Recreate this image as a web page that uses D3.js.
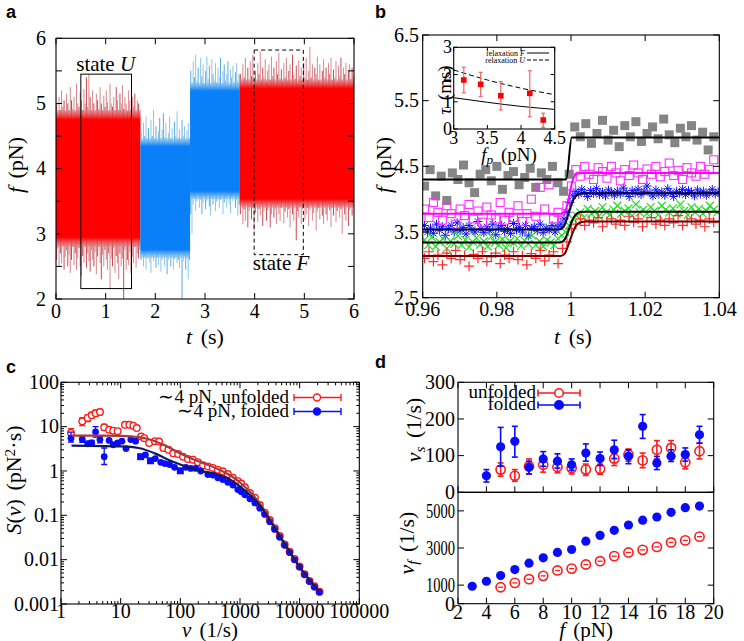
<!DOCTYPE html>
<html><head><meta charset="utf-8">
<script src="https://cdn.jsdelivr.net/npm/d3@7"></script>
<style>
body{margin:0;background:#fff}
svg text{font-family:"Liberation Serif","Times New Roman",serif;fill:#000}
</style></head><body>
<svg id="chart" width="744" height="641"></svg>
<script>
// ================= DATA =================
// ---- panel a : force trace envelopes (segments of the time series)
const aSegStart=[0,1.7,2.7,3.7];
const aSegEnd=[1.7,2.7,3.7,6.0];
const aSegKind=['red','blue','blue','red'];
const aCoreLo=[2.92,2.75,3.65,3.52];
const aCoreHi=[4.78,4.35,5.2,5.25];
const aHi1=[5.0,4.85,5.1,4.9,5.2,4.95,5.05,4.88,5.15,5.0,4.9,5.25,5.05,4.92,5.1,4.86,5.3,5.0,4.95,5.18,5.05,4.9,5.22,5.0,5.4,4.95,5.45,5.1,4.9,5.2,5.0,4.88,5.15,5.05,4.92,5.25,5.0,4.9,5.12,4.95,5.2,5.02,4.88,5.3,5.0,4.95,5.1,4.9,5.25,5.05,4.9,5.15,5.0,5.28,4.92,5.1,5.0,4.88,5.2,5.05,4.9,5.1,4.95,5.15,4.88,5.05,5.0,4.9];
const aLo1=[2.6,2.78,2.5,2.7,2.55,2.82,2.45,2.65,2.75,2.5,2.68,2.4,2.6,2.8,2.52,2.7,2.45,2.62,2.78,2.5,2.35,2.66,2.55,2.8,2.48,2.7,2.58,2.42,2.75,2.6,2.5,2.72,2.38,2.65,2.8,2.55,2.3,2.68,2.5,2.75,2.6,2.45,2.7,2.15,2.62,2.5,2.78,2.4,2.66,2.55,2.3,2.7,2.5,2.62,2.0,2.75,2.45,2.6,2.52,2.72,2.4,2.65,2.55,2.8,2.48,2.7,2.62,2.75];
const aHi2=[4.55,4.42,4.7,4.5,4.8,4.45,4.62,4.4,4.75,4.5,4.9,4.45,4.65,4.42,4.58,4.78,4.44,4.6,4.85,4.48,4.7,4.42,4.55,4.8,4.46,4.62,4.4,4.72,4.5,4.88,4.45,4.6,4.42,4.75,4.5,4.65,4.44,4.58,4.7,4.46];
const aLo2=[2.6,2.7,2.5,2.66,2.45,2.62,2.72,2.55,2.4,2.68,2.58,2.7,2.48,2.64,2.52,2.72,2.42,2.6,2.68,2.5,2.65,2.38,2.6,2.7,2.5,2.66,2.45,2.62,2.7,2.55,2.6,2.48,2.7,2.0,2.58,2.66,2.45,2.62,2.3,2.6];
const aHi3=[5.5,5.3,5.65,5.4,5.75,5.35,5.55,5.28,5.7,5.42,5.6,5.3,5.5,5.72,5.38,5.58,5.3,5.68,5.45,5.35,5.62,5.32,5.55,5.4,5.7,5.3,5.5,5.6,5.35,5.45,5.65,5.3,5.52,5.4,5.58,5.32,5.48,5.62,5.35,5.45];
const aLo3=[3.3,3.0,3.45,3.55,3.35,3.5,3.6,3.4,3.52,3.3,3.48,3.58,3.38,3.5,3.6,3.42,3.28,3.55,3.45,3.6,3.35,3.5,3.58,3.4,3.52,3.6,3.3,3.48,3.55,3.4,3.58,3.45,3.32,3.55,3.5,3.6,3.4,3.52,3.28,3.45];
const aHi4=[5.45,5.32,5.6,5.4,5.7,5.35,5.55,5.3,5.65,5.42,5.75,5.38,5.5,5.32,5.62,5.45,5.8,5.35,5.55,5.4,5.68,5.33,5.5,5.6,5.36,5.72,5.42,5.55,5.3,5.65,5.45,5.78,5.38,5.52,5.34,5.62,5.4,5.7,5.35,5.5,5.6,5.32,5.75,5.45,5.38,5.58,5.3,5.66,5.42,5.55,5.35,5.62,5.4,5.7,5.36,5.5,5.87,5.4,5.6,5.33,5.55,5.45,5.72,5.35,5.6,5.3,5.5,5.68,5.4,5.55,5.32,5.62,5.45,5.7,5.36,5.52,5.4,5.65,5.33,5.58,5.42,5.7,5.35,5.55,5.45,5.62,5.32,5.5,5.6,5.38,5.55,5.42];
const aLo4=[3.3,3.45,3.15,3.38,3.2,3.48,3.1,3.35,3.42,3.22,3.4,3.05,3.32,3.46,3.18,3.38,3.28,3.45,3.12,3.35,3.42,3.2,3.36,3.48,3.1,3.3,3.44,3.25,3.38,3.15,3.45,3.3,3.2,3.4,3.48,3.16,3.34,3.42,3.25,3.38,3.1,3.44,3.3,3.2,3.45,2.9,3.35,3.25,3.42,3.15,3.38,3.46,3.22,3.3,3.4,3.12,3.36,3.44,3.2,3.32,3.45,3.05,3.34,3.4,3.22,3.48,3.28,3.15,3.42,3.3,3.2,3.45,3.36,3.1,3.4,3.28,3.46,3.18,3.35,3.42,3.25,3.38,3.0,3.44,3.3,3.2,3.46,3.12,3.36,3.4,3.28,3.45];
const aXTicks=[0,1,2,3,4,5,6];
const aYTicks=[2,3,4,5,6];

// ---- panel b : relaxation traces (start time, sample step, values)
const bGreyStart=0.9605, bGreyStep=0.0015;
const bGrey=[4.2,4.45,4.05,4.35,3.98,4.4,4.3,4.52,4.25,4.1,4.38,4.45,4.28,4.5,4.15,4.36,4.42,4.22,4.33,4.47,4.18,4.4,4.3,4.5,4.25,4.12,4.38,
 5.1,4.95,5.15,4.85,5.0,5.2,4.9,5.05,4.8,5.12,4.95,5.18,4.88,5.0,5.1,4.92,5.22,4.98,4.86,5.08,4.95,5.12,4.9,5.02,4.75,4.95];
const bMagStart=0.9605, bMagStep=0.0012;
const bMag=[3.85,3.72,3.95,3.8,3.68,3.9,3.78,3.62,3.85,3.75,3.92,3.7,3.82,3.65,3.88,3.76,3.7,3.95,3.68,3.8,3.72,3.9,3.66,3.78,4.0,3.74,4.18,3.85,4.22,3.7,3.8,3.72,3.9,
 4.2,4.45,4.35,4.5,4.38,4.3,4.48,4.42,4.32,4.5,4.4,4.28,4.45,4.36,4.52,4.4,4.3,4.46,4.38,4.5,4.34,4.42,4.55,4.36,4.44,4.3,4.48,4.4,4.35,4.5,4.38,4.45,4.6];
const bBlueStart=0.9605, bBlueStep=0.0008;
const bBlue=[3.6,3.5,3.56,3.48,3.62,3.53,3.58,3.45,3.55,3.6,3.5,3.64,3.52,3.57,3.47,3.6,3.54,3.5,3.66,3.55,3.49,3.58,3.52,3.62,3.46,3.56,3.6,3.51,3.55,3.48,3.63,3.53,3.57,3.5,3.6,3.44,3.55,3.58,3.52,3.62,3.49,3.56,3.53,3.6,3.5,3.58,3.62,3.7,3.8,
 3.95,4.05,4.12,4.08,4.15,4.1,4.04,4.13,4.09,4.16,4.07,4.11,4.05,4.14,4.1,4.06,4.12,4.08,4.17,4.1,4.04,4.13,4.09,4.15,4.07,4.12,4.2,4.1,4.05,4.14,4.08,4.11,4.06,4.16,4.1,4.04,4.12,4.09,4.15,4.07,4.13,4.1,4.05,4.14,4.08,4.12,4.06,4.1,4.15,4.08,4.11];
const bGreenStart=0.9605, bGreenStep=0.001;
const bGreen=[3.38,3.3,3.42,3.28,3.35,3.4,3.25,3.36,3.32,3.44,3.3,3.38,3.27,3.35,3.41,3.31,3.36,3.28,3.43,3.34,3.3,3.39,3.26,3.36,3.33,3.4,3.29,3.37,3.32,3.45,3.3,3.36,3.28,3.38,3.34,3.3,3.4,3.45,3.5,3.6,
 3.7,3.75,3.8,3.72,3.85,3.78,3.82,3.74,3.88,3.8,3.76,3.84,3.9,3.78,3.82,3.86,3.75,3.92,3.8,3.84,3.78,3.88,3.82,3.76,3.9,3.84,3.8,3.86,3.78,3.92,3.82,3.76,3.88,3.8,3.85,3.78,3.82,3.9,3.84,3.8];
const bRedStart=0.9605, bRedStep=0.0012;
const bRed=[3.1,3.2,3.05,3.15,3.0,3.18,3.1,3.22,3.08,3.14,2.98,3.16,3.1,3.2,3.05,3.12,3.18,3.02,3.15,3.1,3.2,3.08,3.14,3.0,3.17,3.1,3.22,3.06,3.15,3.2,3.02,3.25,3.35,
 3.55,3.62,3.7,3.6,3.68,3.64,3.72,3.58,3.66,3.7,3.62,3.68,3.6,3.74,3.65,3.7,3.58,3.66,3.72,3.62,3.68,3.6,3.7,3.64,3.75,3.6,3.66,3.7,3.62,3.68,3.58,3.7,3.65];
// fitted curves [t, f]
const bFitGrey=[[0.96,4.30],[0.9987,4.30],[1.0002,4.94],[1.04,4.94]];
const bFitMag=[[0.96,3.78],[0.9972,3.78],[0.9985,3.83],[0.9995,4.05],[1.0005,4.3],[1.0017,4.39],[1.003,4.40],[1.04,4.40]];
const bFitBlue=[[0.96,3.54],[0.9968,3.54],[0.998,3.58],[0.999,3.72],[1.0,3.9],[1.001,4.03],[1.0022,4.08],[1.0035,4.09],[1.04,4.09]];
const bFitGreen=[[0.96,3.34],[0.997,3.34],[0.9982,3.38],[0.9992,3.5],[1.0002,3.66],[1.0012,3.76],[1.0025,3.805],[1.004,3.81],[1.04,3.81]];
const bFitRed=[[0.96,3.135],[0.9972,3.135],[0.9984,3.18],[0.9994,3.32],[1.0004,3.48],[1.0014,3.6],[1.0027,3.65],[1.0042,3.66],[1.04,3.66]];
const bXTicks=[0.96,0.98,1.0,1.02,1.04];
const bYTicks=[2.5,3.5,4.5,5.5,6.5];
// inset
const iFp=[3.15,3.40,3.70,4.13,4.33];
const iTau=[1.80,1.64,1.22,1.31,0.33];
const iTauLo=[1.33,1.19,0.70,0.45,0.06];
const iTauHi=[2.27,2.08,1.74,2.14,0.58];
const iFitUx=[3,3.5,4,4.5], iFitU=[2.17,1.8,1.5,1.26];
const iFitFx=[3,3.5,4,4.5], iFitF=[1.15,0.98,0.83,0.72];
const iXTicks=[3,3.5,4,4.5], iYTicks=[0,1,2,3];

// ---- panel c : power spectra
const cUnfNu=[1.47,2.27,2.8,3.27,3.8,4.5,5.3,6.4,7.5,8.9,11.8,14,16.3,18.6,22,24.9,30,37.6,44,52,63,76,92,111,134,163,197,240,290,350,425,515,625,760,920,1050,1210,1466,1776,2151,2606,3157,3825,4633,5613,6801,8239,9981,12092,14649,17747,21500];
const cUnfS=[7.2,13.2,15.7,18,20,21.4,9.7,8.5,8.1,7.9,11,11,10.5,9.3,6.0,5.5,4.3,4.7,4.6,3.3,3.0,2.5,2.4,2.1,1.86,1.8,1.58,1.34,1.27,1.17,1.07,0.98,0.85,0.70,0.59,0.52,0.43,0.32,0.25,0.17,0.115,0.078,0.051,0.034,0.022,0.0151,0.0103,0.0070,0.0047,0.0033,0.0025,0.0019];
const cUnfErrLo=[6.0,10.5,13,15.5,17,18.5,8.5,7.5,7.2,7.0];
const cUnfErrHi=[9.0,16,18.5,21,23.5,24.5,11.2,9.6,9.0,8.8];
const cFoldNu=[1.47,2.27,2.8,3.27,3.8,4.5,5.3,6.4,7.5,8.9,10.5,12.3,14.8,17.8,26,38,47,55,66,80,124,150,182,220,290,350,425,515,625,760,920,1050,1210,1466,1776,2151,2606,3157,3825,4633,5613,6801,8239,9981,12092,14649,17747,21500];
const cFoldS=[5.5,5.2,4.1,4.3,7.6,5.1,2.1,4.9,3.9,4.3,4.7,3.2,5.1,4.7,2.3,1.9,1.57,1.47,1.40,1.21,1.21,1.14,1.14,1.0,0.83,0.81,0.70,0.64,0.556,0.48,0.38,0.34,0.29,0.235,0.19,0.145,0.105,0.072,0.048,0.032,0.021,0.0145,0.0099,0.0068,0.0046,0.0032,0.0024,0.00185];
const cFoldErrLo=[4.5,4.4,3.6,3.8,5.8,4.3,1.4];
const cFoldErrHi=[7.5,6.1,4.7,4.9,10,6.0,3.3];
const cFoldSqNu=[21.6,31.6,100], cFoldSqS=[2.1,1.7,1.01];
const cUnfFitNu=[1.5,5,10,20,30,50,80,120,200,300,500,700,1000,1500,2000,3000,5000,10000,21500];
const cUnfFitS=[6.3,6.3,6.2,5.8,5.2,4.0,2.9,2.2,1.65,1.35,1.0,0.78,0.55,0.33,0.21,0.093,0.03,0.0068,0.0019];
const cFoldFitNu=[1.5,10,20,40,60,100,150,250,400,600,1000,1500,2000,3000,5000,10000,21500];
const cFoldFitS=[3.75,3.6,3.3,2.4,1.85,1.4,1.15,0.97,0.85,0.7,0.45,0.28,0.19,0.088,0.029,0.0068,0.0019];
const cXTicks=[1,10,100,1000,10000,100000];
const cXLabels=['1','10','100','1000','10000','100000'];
const cYTicks=[0.001,0.01,0.1,1,10,100];
const cYLabels=['0.001','0.01','0.1','1','10','100'];

// ---- panel d : rates vs force
const dFoldF=[4,5,6,7,8,9,10,11,12,13,14,15,16,17,18,19];
const dFoldNuS=[45,124,139,68,91,85,75,107,92,116,98,180,80,98,103,157];
const dFoldNuSHi=[62,177,180,85,111,105,91,132,110,142,116,212,98,116,121,180];
const dFoldNuSLo=[28,71,96,50,71,66,60,85,73,92,78,147,62,84,85,134];
const dUnfF=[5,6,7,8,9,10,11,12,13,14,15,16,17,18,19];
const dUnfNuS=[62,45,71,75,69,66,62,64,92,103,87,116,121,82,112];
const dUnfNuSHi=[80,62,91,93,86,80,77,77,107,118,107,141,141,97,134];
const dUnfNuSLo=[44,30,50,55,53,50,46,49,73,85,67,91,101,64,91];
const dFoldF2=[3,4,5,6,7,8,9,10,11,12,13,14,15,16,17,18,19];
const dFoldNuF=[940,1210,1515,1840,2180,2470,2760,2920,3370,3680,3950,4240,4500,4670,4920,5170,5260];
const dUnfF2=[5,6,7,8,9,10,11,12,13,14,15,16,17,18,19];
const dUnfNuF=[885,1120,1320,1500,1790,1890,2110,2290,2560,2760,2900,3060,3300,3410,3610];
const dXTicks=[2,4,6,8,10,12,14,16,18,20];
const dYTopTicks=[0,100,200,300];
const dYBotTicks=[0,1000,3000,5000];

// ================= DRAWING =================
const svg=d3.select('#chart');
const TICK=20;
function frame(g,x0,x1,y0,y1,dash){
  const r=g.append('rect').attr('x',x0).attr('y',y0).attr('width',x1-x0).attr('height',y1-y0)
   .attr('fill','none').attr('stroke','#000').attr('stroke-width',1.1);
  if(dash) r.attr('stroke-dasharray',dash);
  return r;
}
function xTicks(g,sc,vals,yTop,yBot,len,top=true,bot=true){
  if(bot) g.append('g').selectAll('line').data(vals).join('line')
    .attr('x1',d=>sc(d)).attr('x2',d=>sc(d)).attr('y1',yBot).attr('y2',yBot-len).attr('stroke','#000');
  if(top) g.append('g').selectAll('line').data(vals).join('line')
    .attr('x1',d=>sc(d)).attr('x2',d=>sc(d)).attr('y1',yTop).attr('y2',yTop+len).attr('stroke','#000');
}
function yTicks(g,sc,vals,xL,xR,len){
  g.append('g').selectAll('line').data(vals).join('line')
    .attr('y1',d=>sc(d)).attr('y2',d=>sc(d)).attr('x1',xL).attr('x2',xL+len).attr('stroke','#000');
  g.append('g').selectAll('line').data(vals).join('line')
    .attr('y1',d=>sc(d)).attr('y2',d=>sc(d)).attr('x1',xR).attr('x2',xR-len).attr('stroke','#000');
}
function xLabels(g,sc,vals,y,fmt,size){
  g.append('g').selectAll('text').data(vals).join('text').attr('x',d=>sc(d)).attr('y',y)
   .attr('text-anchor','middle').attr('font-size',size||TICK).text((d,i)=>fmt?fmt(d,i):d);
}
function yLabels(g,sc,vals,x,fmt,size){
  g.append('g').selectAll('text').data(vals).join('text').attr('x',x).attr('y',d=>sc(d)).attr('dy','0.34em')
   .attr('text-anchor','end').attr('font-size',size||TICK).text((d,i)=>fmt?fmt(d,i):d);
}
function rich(sel,parts){
  parts.forEach(p=>{const t=sel.append('tspan').text(p.t);
    if(p.i) t.attr('font-style','italic');
    if(p.sub){t.attr('baseline-shift','-25%').attr('font-size','70%');}
    if(p.sup){t.attr('baseline-shift','40%').attr('font-size','70%');}
  });
  return sel;
}
function title(g,x,y,parts,size,rot){
  const t=g.append('text').attr('text-anchor','middle').attr('font-size',size||22).attr('word-spacing','3px');
  if(rot) t.attr('transform',`translate(${x},${y}) rotate(-90)`).attr('dy','0.35em');
  else t.attr('x',x).attr('y',y);
  return rich(t,parts);
}
function panelLetter(x,y,s){
  svg.append('text').attr('x',x).attr('y',y).attr('font-size',18).attr('font-weight','bold')
   .style('font-family','"Liberation Sans",Arial,sans-serif').text(s);
}
const defs=svg.append('defs');
function clip(id,x0,x1,y0,y1){defs.append('clipPath').attr('id',id).append('rect').attr('x',x0).attr('y',y0).attr('width',x1-x0).attr('height',y1-y0);}

// ---------- Panel a
{
  const X0=56,X1=354,Y0=38.3,Y1=299;
  const ax=d3.scaleLinear([0,6],[X0,X1]), ay=d3.scaleLinear([2,6],[Y1,Y0]);
  const g=svg.append('g');
  clip('clipA',X0,X1,Y0,Y1);
  const tg=g.append('g').attr('clip-path','url(#clipA)');
  const halo={red:'#d9868b',blue:'#8dc5ea'}, haloDark={red:'#c84a52',blue:'#5aaae6'}, core={red:'#ff0000',blue:'#0a80f8'};
  // vertical gradients that soften the core band edges
  ['red','blue'].forEach(k=>{
    const gr=defs.append('linearGradient').attr('id','grad-'+k).attr('x1',0).attr('x2',0).attr('y1',0).attr('y2',1);
    [[0,halo[k],0],[0.07,core[k],1],[0.93,core[k],1],[1,halo[k],0]].forEach(([o,c,op])=>
      gr.append('stop').attr('offset',o).attr('stop-color',c).attr('stop-opacity',op===0?0.6:1));
  });
  const his=[aHi1,aHi2,aHi3,aHi4], los=[aLo1,aLo2,aLo3,aLo4];
  aSegStart.forEach((t0,k)=>{
    const t1=aSegEnd[k], hi=his[k], lo=los[k], n=hi.length, dt=(t1-t0)/n, kind=aSegKind[k];
    const pts=hi.map((v,i)=>({t:t0+(i+0.5)*dt,hi:v,lo:lo[i]}));
    tg.append('g').selectAll('line').data(pts).join('line')
      .attr('x1',d=>ax(d.t)).attr('x2',d=>ax(d.t)).attr('y1',d=>ay(d.lo)).attr('y2',d=>ay(d.hi))
      .attr('stroke',(d,i)=>i%3===0?haloDark[kind]:halo[kind]).attr('stroke-width',1);
    const padHi=0.12, padLo=0.12;
    tg.append('rect').attr('x',ax(t0)).attr('width',ax(t1)-ax(t0))
      .attr('y',ay(aCoreHi[k]+padHi)).attr('height',ay(aCoreLo[k]-padLo)-ay(aCoreHi[k]+padHi)).attr('fill',`url(#grad-${kind})`);
  });
  g.append('rect').attr('x',ax(0.5)).attr('y',ay(5.45)).attr('width',ax(1.52)-ax(0.5)).attr('height',ay(2.16)-ay(5.45))
    .attr('fill','none').attr('stroke','#000').attr('stroke-width',1);
  g.append('rect').attr('x',ax(3.99)).attr('y',ay(5.82)).attr('width',ax(4.98)-ax(3.99)).attr('height',ay(2.68)-ay(5.82))
    .attr('fill','none').attr('stroke','#000').attr('stroke-width',1).attr('stroke-dasharray','4,3');
  rich(g.append('text').attr('x',ax(1.0)).attr('y',70.5).attr('text-anchor','middle').attr('font-size',21),[{t:'state '},{t:'U',i:1}]);
  rich(g.append('text').attr('x',281).attr('y',270).attr('text-anchor','middle').attr('font-size',21),[{t:'state '},{t:'F',i:1}]);
  frame(g,X0,X1,Y0,Y1);
  xTicks(g,ax,aXTicks,Y0,Y1,6);
  yTicks(g,ay,d3.range(2,6.01,0.5),X0,X1,6);
  xLabels(g,ax,aXTicks,318);
  yLabels(g,ay,aYTicks,46);
  title(g,15,165,[{t:'f',i:1},{t:' (pN)'}],22,true);
  title(g,205,344,[{t:'t',i:1},{t:' (s)'}],22);
  panelLetter(6,18,'a');
}

// ---------- Panel b
{
  const X0=422.7,X1=719.3,Y0=35,Y1=297.7;
  const bx=d3.scaleLinear([0.96,1.04],[X0,X1]), by=d3.scaleLinear([2.5,6.5],[Y1,Y0]);
  const g=svg.append('g');
  clip('clipB',X0,X1,Y0,Y1);
  const dg=g.append('g').attr('clip-path','url(#clipB)');
  const mk=(vals,start,step)=>vals.map((v,i)=>({t:start+i*step,f:v}));
  dg.append('g').selectAll('rect').data(mk(bGrey,bGreyStart,bGreyStep)).join('rect')
    .attr('x',d=>bx(d.t)-4.5).attr('y',d=>by(d.f)-4.5).attr('width',9).attr('height',9).attr('fill','#858585');
  const ast=(s)=>`M${-s},0H${s}M0,${-s}V${s}M${-s*0.7},${-s*0.7}L${s*0.7},${s*0.7}M${-s*0.7},${s*0.7}L${s*0.7},${-s*0.7}`;
  dg.append('g').selectAll('path').data(mk(bBlue,bBlueStart,bBlueStep)).join('path')
    .attr('transform',d=>`translate(${bx(d.t)},${by(d.f)})`).attr('d',ast(4.5))
    .attr('stroke','#1010ff').attr('stroke-width',1).attr('fill','none');
  dg.append('g').selectAll('rect').data(mk(bMag,bMagStart,bMagStep)).join('rect')
    .attr('x',d=>bx(d.t)-4).attr('y',d=>by(d.f)-4).attr('width',8).attr('height',8)
    .attr('fill','none').attr('stroke','#ff30ff').attr('stroke-width',1.1);
  const xm=(s)=>`M${-s},${-s}L${s},${s}M${-s},${s}L${s},${-s}`;
  dg.append('g').selectAll('path').data(mk(bGreen,bGreenStart,bGreenStep)).join('path')
    .attr('transform',d=>`translate(${bx(d.t)},${by(d.f)})`).attr('d',xm(4))
    .attr('stroke','#22dd22').attr('stroke-width',1.2).attr('fill','none');
  const pm=(s)=>`M${-s},0H${s}M0,${-s}V${s}`;
  dg.append('g').selectAll('path').data(mk(bRed,bRedStart,bRedStep)).join('path')
    .attr('transform',d=>`translate(${bx(d.t)},${by(d.f)})`).attr('d',pm(5))
    .attr('stroke','#ff2a2a').attr('stroke-width',1.2).attr('fill','none');
  const ln=d3.line().x(d=>bx(d[0])).y(d=>by(d[1])).curve(d3.curveMonotoneX);
  [[bFitGrey,'#000'],[bFitMag,'#ff00ff'],[bFitBlue,'#000030'],[bFitGreen,'#000'],[bFitRed,'#700000']].forEach(([data,c])=>{
    dg.append('path').datum(data).attr('d',ln).attr('fill','none').attr('stroke',c).attr('stroke-width',2);
  });
  frame(g,X0,X1,Y0,Y1);
  xTicks(g,bx,bXTicks,Y0,Y1,6);
  yTicks(g,by,bYTicks,X0,X1,6);
  xLabels(g,bx,bXTicks,316,d=>d===1?'1':d3.format('.2f')(d));
  yLabels(g,by,bYTicks,419,d=>d.toFixed(1));
  title(g,383,165,[{t:'f',i:1},{t:' (pN)'}],22,true);
  title(g,573,344,[{t:'t',i:1},{t:' (s)'}],22);
  panelLetter(375,18,'b');

  // inset
  const IX0=453.7,IX1=554.7,IY0=47.3,IY1=129;
  const ix=d3.scaleLinear([3,4.5],[IX0,IX1]), iy=d3.scaleLinear([0,3],[IY1,IY0]);
  const ig=svg.append('g');
  ig.append('rect').attr('x',IX0).attr('y',IY0).attr('width',IX1-IX0).attr('height',IY1-IY0).attr('fill','#fff');
  const il=d3.line().x(d=>ix(d[0])).y(d=>iy(d[1])).curve(d3.curveMonotoneX);
  ig.append('path').datum(iFitUx.map((x,i)=>[x,iFitU[i]])).attr('d',il).attr('fill','none').attr('stroke','#000').attr('stroke-dasharray','5,3');
  ig.append('path').datum(iFitFx.map((x,i)=>[x,iFitF[i]])).attr('d',il).attr('fill','none').attr('stroke','#000');
  const ip=iFp.map((x,i)=>({x,y:iTau[i],lo:iTauLo[i],hi:iTauHi[i]}));
  const eg=ig.append('g').attr('stroke','#f07070').attr('stroke-width',1.3);
  ip.forEach(d=>{
    eg.append('line').attr('x1',ix(d.x)).attr('x2',ix(d.x)).attr('y1',iy(d.lo)).attr('y2',iy(d.hi));
    eg.append('line').attr('x1',ix(d.x)-2).attr('x2',ix(d.x)+2).attr('y1',iy(d.lo)).attr('y2',iy(d.lo));
    eg.append('line').attr('x1',ix(d.x)-2).attr('x2',ix(d.x)+2).attr('y1',iy(d.hi)).attr('y2',iy(d.hi));
  });
  ig.append('g').selectAll('rect').data(ip).join('rect').attr('x',d=>ix(d.x)-2.8).attr('y',d=>iy(d.y)-2.8)
    .attr('width',5.6).attr('height',5.6).attr('fill','#ff0000');
  rich(ig.append('text').attr('x',525).attr('y',56).attr('text-anchor','end').attr('font-size',8),[{t:'relaxation '},{t:'F',i:1}]);
  rich(ig.append('text').attr('x',525).attr('y',63).attr('text-anchor','end').attr('font-size',8),[{t:'relaxation '},{t:'U',i:1}]);
  ig.append('line').attr('x1',527).attr('x2',549).attr('y1',53).attr('y2',53).attr('stroke','#000');
  ig.append('line').attr('x1',527).attr('x2',549).attr('y1',60).attr('y2',60).attr('stroke','#000').attr('stroke-dasharray','4,2');
  frame(ig,IX0,IX1,IY0,IY1);
  xTicks(ig,ix,iXTicks,IY0,IY1,4);
  yTicks(ig,iy,iYTicks,IX0,IX1,4);
  xLabels(ig,ix,iXTicks,144,null,18);
  yLabels(ig,iy,iYTicks,452,null,18);
  title(ig,444,90,[{t:'τ',i:1},{t:' (ms)'}],19,true);
  title(ig,509,161,[{t:'f',i:1},{t:'p',i:1,sub:1},{t:' (pN)'}],19);
}

// ---------- Panel c
{
  const X0=61,X1=359.3,Y0=382.3,Y1=604;
  const cx=d3.scaleLog([1,1e5],[X0,X1]), cy=d3.scaleLog([1e-3,1e2],[Y1,Y0]);
  const g=svg.append('g');
  clip('clipC',X0,X1,Y0,Y1);
  const dg=g.append('g').attr('clip-path','url(#clipC)');
  const RED='#ff1a1a', BLUE='#0a0aff';
  function errs(gg,nu,lo,hi,col){
    const e=gg.append('g').attr('stroke',col).attr('stroke-width',1.3);
    lo.forEach((l,i)=>{const x=cx(nu[i]);
      e.append('line').attr('x1',x).attr('x2',x).attr('y1',cy(l)).attr('y2',cy(hi[i]));
      e.append('line').attr('x1',x-3).attr('x2',x+3).attr('y1',cy(l)).attr('y2',cy(l));
      e.append('line').attr('x1',x-3).attr('x2',x+3).attr('y1',cy(hi[i])).attr('y2',cy(hi[i]));
    });
  }
  errs(dg,cUnfNu,cUnfErrLo,cUnfErrHi,RED);
  dg.append('g').selectAll('circle').data(cUnfNu.map((n,i)=>[n,cUnfS[i]])).join('circle')
    .attr('cx',d=>cx(d[0])).attr('cy',d=>cy(d[1])).attr('r',3.3).attr('fill','#fff').attr('stroke',RED).attr('stroke-width',1.4);
  errs(dg,cFoldNu,cFoldErrLo,cFoldErrHi,BLUE);
  dg.append('g').selectAll('circle').data(cFoldNu.map((n,i)=>[n,cFoldS[i]])).join('circle')
    .attr('cx',d=>cx(d[0])).attr('cy',d=>cy(d[1])).attr('r',3.4).attr('fill',BLUE);
  dg.append('g').selectAll('rect').data(cFoldSqNu.map((n,i)=>[n,cFoldSqS[i]])).join('rect')
    .attr('x',d=>cx(d[0])-3.5).attr('y',d=>cy(d[1])-3.5).attr('width',7).attr('height',7).attr('fill',BLUE);
  const ln=d3.line().x(d=>cx(d[0])).y(d=>cy(d[1])).curve(d3.curveMonotoneX);
  dg.append('path').datum(cUnfFitNu.map((n,i)=>[n,cUnfFitS[i]])).attr('d',ln).attr('fill','none').attr('stroke','#a83a3a').attr('stroke-width',2.2);
  dg.append('path').datum(cFoldFitNu.map((n,i)=>[n,cFoldFitS[i]])).attr('d',ln).attr('fill','none').attr('stroke','#101a60').attr('stroke-width',2.2);
  const lg=g.append('g');
  [[397.5,'unfolded',RED,false],[411.5,'folded',BLUE,true]].forEach(([y,lab,col,filled])=>{
    lg.append('text').attr('x',289).attr('y',y+5.5).attr('text-anchor','end').attr('font-size',19).text('∼4 pN, '+lab);
    lg.append('line').attr('x1',294).attr('x2',341).attr('y1',y).attr('y2',y).attr('stroke',col).attr('stroke-width',1.4);
    lg.append('line').attr('x1',294).attr('x2',294).attr('y1',y-3.5).attr('y2',y+3.5).attr('stroke',col).attr('stroke-width',1.4);
    lg.append('line').attr('x1',341).attr('x2',341).attr('y1',y-3.5).attr('y2',y+3.5).attr('stroke',col).attr('stroke-width',1.4);
    lg.append('circle').attr('cx',317).attr('cy',y).attr('r',3.5).attr('fill',filled?col:'#fff').attr('stroke',col).attr('stroke-width',1.4);
  });
  frame(g,X0,X1,Y0,Y1);
  const minorX=[], minorY=[];
  [1,10,100,1000,10000].forEach(d=>{for(let k=2;k<10;k++) minorX.push(d*k);});
  [0.001,0.01,0.1,1,10].forEach(d=>{for(let k=2;k<10;k++) minorY.push(d*k);});
  xTicks(g,cx,cXTicks,Y0,Y1,6); xTicks(g,cx,minorX,Y0,Y1,3);
  yTicks(g,cy,cYTicks,X0,X1,6); yTicks(g,cy,minorY,X0,X1,3);
  xLabels(g,cx,cXTicks,618,(d,i)=>cXLabels[i]);
  yLabels(g,cy,cYTicks,59,(d,i)=>cYLabels[i]);
  title(g,13,480,[{t:'S',i:1},{t:'('},{t:'ν',i:1},{t:') (pN'},{t:'2',sup:1},{t:'·s)'}],22,true);
  title(g,210,637,[{t:'ν',i:1},{t:' (1/s)'}],21);
  panelLetter(6,373,'c');
}

// ---------- Panel d
{
  const X0=458,X1=713.7,YT0=382.3,YM=492.3,YB=603.7;
  const dx=d3.scaleLinear([2,20],[X0,X1]);
  const yt=d3.scaleLinear([0,300],[YM,YT0]), yb=d3.scaleLinear([0,6000],[YB,YM]);
  const g=svg.append('g');
  const RED='#ff1a1a', BLUE='#0a0aff';
  function errV(gg,xs,ys,lo,hi,sc,col,cap){
    const e=gg.append('g').attr('stroke',col).attr('stroke-width',1.6);
    xs.forEach((f,i)=>{const x=dx(f);
      e.append('line').attr('x1',x).attr('x2',x).attr('y1',sc(lo[i])).attr('y2',sc(hi[i]));
      e.append('line').attr('x1',x-cap).attr('x2',x+cap).attr('y1',sc(lo[i])).attr('y2',sc(lo[i]));
      e.append('line').attr('x1',x-cap).attr('x2',x+cap).attr('y1',sc(hi[i])).attr('y2',sc(hi[i]));
    });
  }
  errV(g,dUnfF,dUnfNuS,dUnfNuSLo,dUnfNuSHi,yt,RED,3);
  g.append('g').selectAll('circle').data(dUnfF.map((f,i)=>[f,dUnfNuS[i]])).join('circle')
    .attr('cx',d=>dx(d[0])).attr('cy',d=>yt(d[1])).attr('r',4.6).attr('fill','none').attr('stroke',RED).attr('stroke-width',1.6);
  errV(g,dFoldF,dFoldNuS,dFoldNuSLo,dFoldNuSHi,yt,BLUE,3);
  g.append('g').selectAll('circle').data(dFoldF.map((f,i)=>[f,dFoldNuS[i]])).join('circle')
    .attr('cx',d=>dx(d[0])).attr('cy',d=>yt(d[1])).attr('r',4.6).attr('fill',BLUE);
  g.append('g').selectAll('circle').data(dFoldF2.map((f,i)=>[f,dFoldNuF[i]])).join('circle')
    .attr('cx',d=>dx(d[0])).attr('cy',d=>yb(d[1])).attr('r',4.6).attr('fill',BLUE);
  g.append('g').selectAll('circle').data(dUnfF2.map((f,i)=>[f,dUnfNuF[i]])).join('circle')
    .attr('cx',d=>dx(d[0])).attr('cy',d=>yb(d[1])).attr('r',4.6).attr('fill','none').attr('stroke',RED).attr('stroke-width',1.6);
  g.append('g').selectAll('line').data(dUnfF2.map((f,i)=>[f,dUnfNuF[i]])).join('line')
    .attr('x1',d=>dx(d[0])-2.5).attr('x2',d=>dx(d[0])+2.5).attr('y1',d=>yb(d[1])).attr('y2',d=>yb(d[1]))
    .attr('stroke',RED).attr('stroke-width',1.3);
  [[393,'unfolded',RED,false],[405,'folded',BLUE,true]].forEach(([y,lab,col,filled])=>{
    g.append('text').attr('x',536).attr('y',y+5).attr('text-anchor','end').attr('font-size',19).text(lab);
    g.append('line').attr('x1',538).attr('x2',580).attr('y1',y).attr('y2',y).attr('stroke',col).attr('stroke-width',1.6);
    g.append('line').attr('x1',538).attr('x2',538).attr('y1',y-3.5).attr('y2',y+3.5).attr('stroke',col).attr('stroke-width',1.6);
    g.append('line').attr('x1',580).attr('x2',580).attr('y1',y-3.5).attr('y2',y+3.5).attr('stroke',col).attr('stroke-width',1.6);
    g.append('circle').attr('cx',559).attr('cy',y).attr('r',4.3).attr('fill',filled?col:'#fff').attr('stroke',col).attr('stroke-width',1.6);
  });
  frame(g,X0,X1,YT0,YM); frame(g,X0,X1,YM,YB);
  xTicks(g,dx,dXTicks,YT0,YM,6,true,true);
  xTicks(g,dx,dXTicks,YM,YB,6,false,true);
  yTicks(g,yt,dYTopTicks,X0,X1,6);
  yTicks(g,yb,dYBotTicks,X0,X1,6);
  xLabels(g,dx,dXTicks,619);
  yLabels(g,yt,dYTopTicks,455);
  g.append('g').selectAll('text').data(dYBotTicks).join('text').attr('x',455).attr('y',d=>yb(d)).attr('dy','0.34em')
    .attr('text-anchor','end').attr('font-size',TICK).each(function(d){
      const t=d3.select(this).text(d); if(d>0) t.attr('textLength',29).attr('lengthAdjust','spacingAndGlyphs');});
  title(g,413,430,[{t:'ν',i:1},{t:'s',i:1,sub:1},{t:' (1/s)'}],22,true);
  title(g,406,543,[{t:'ν',i:1},{t:'f',i:1,sub:1},{t:' (1/s)'}],22,true);
  title(g,586,637,[{t:'f',i:1},{t:' (pN)'}],21);
  panelLetter(375,368,'d');
}
</script></body></html>
